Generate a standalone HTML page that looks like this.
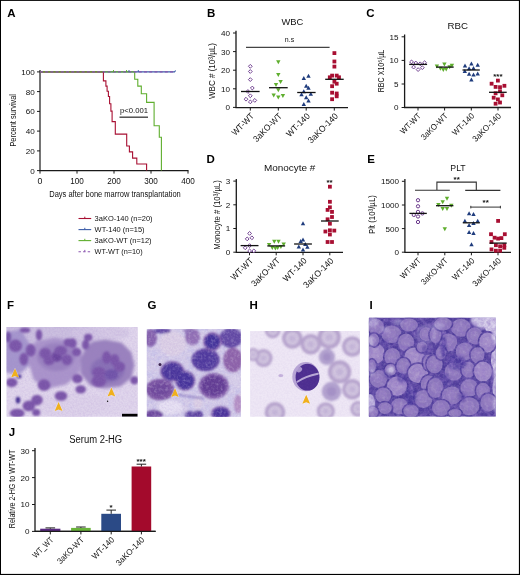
<!DOCTYPE html>
<html><head><meta charset="utf-8"><title>Figure</title>
<style>
html,body{margin:0;padding:0;background:#fff;}
svg{display:block;opacity:0.999;}
text{font-family:"Liberation Sans",sans-serif;}
#panelA,#panelB,#panelC,#panelD,#panelE,#panelJ,#lbl{filter:blur(0.35px);}
</style></head><body>
<svg width="520" height="575" viewBox="0 0 520 575">
<rect x="0" y="0" width="520" height="575" fill="#fff"/>
<g id="panelA"><text x="7.3" y="16.6" font-size="11.5" text-anchor="start" fill="#000" font-weight="bold" >A</text>
<path d="M40 69.9V170.6H188.5" fill="none" stroke="#1a1a1a" stroke-width="1.2"/>
<path d="M37 170.6H40" stroke="#1a1a1a" stroke-width="1"/>
<text x="34.8" y="173.5" font-size="8.1" text-anchor="end" fill="#111" >0</text>
<path d="M37 150.9H40" stroke="#1a1a1a" stroke-width="1"/>
<text x="34.8" y="153.8" font-size="8.1" text-anchor="end" fill="#111" >20</text>
<path d="M37 131.1H40" stroke="#1a1a1a" stroke-width="1"/>
<text x="34.8" y="134.0" font-size="8.1" text-anchor="end" fill="#111" >40</text>
<path d="M37 111.4H40" stroke="#1a1a1a" stroke-width="1"/>
<text x="34.8" y="114.3" font-size="8.1" text-anchor="end" fill="#111" >60</text>
<path d="M37 91.6H40" stroke="#1a1a1a" stroke-width="1"/>
<text x="34.8" y="94.5" font-size="8.1" text-anchor="end" fill="#111" >80</text>
<path d="M37 71.9H40" stroke="#1a1a1a" stroke-width="1"/>
<text x="34.8" y="74.8" font-size="8.1" text-anchor="end" fill="#111" >100</text>
<path d="M40.0 170.6V173.6" stroke="#1a1a1a" stroke-width="1"/>
<text x="40.0" y="183.5" font-size="8.8" text-anchor="middle" fill="#111" >0</text>
<path d="M77.0 170.6V173.6" stroke="#1a1a1a" stroke-width="1"/>
<text x="77.0" y="183.5" font-size="8.8" text-anchor="middle" fill="#111" textLength="13.6" lengthAdjust="spacingAndGlyphs" >100</text>
<path d="M114.0 170.6V173.6" stroke="#1a1a1a" stroke-width="1"/>
<text x="114.0" y="183.5" font-size="8.8" text-anchor="middle" fill="#111" textLength="13.6" lengthAdjust="spacingAndGlyphs" >200</text>
<path d="M151.0 170.6V173.6" stroke="#1a1a1a" stroke-width="1"/>
<text x="151.0" y="183.5" font-size="8.8" text-anchor="middle" fill="#111" textLength="13.6" lengthAdjust="spacingAndGlyphs" >300</text>
<path d="M188.0 170.6V173.6" stroke="#1a1a1a" stroke-width="1"/>
<text x="188.0" y="183.5" font-size="8.8" text-anchor="middle" fill="#111" textLength="13.6" lengthAdjust="spacingAndGlyphs" >400</text>
<text x="15.8" y="120.3" font-size="9.6" text-anchor="middle" fill="#111" textLength="52.6" lengthAdjust="spacingAndGlyphs" transform="rotate(-90 15.8 120.3)" >Percent survival</text>
<text x="115" y="196.7" font-size="9.6" text-anchor="middle" fill="#111" textLength="131.5" lengthAdjust="spacingAndGlyphs" >Days after bone marrow transplantation</text>
<path d="M40 71.9H174.5l1.2 -1.4" fill="none" stroke="#3b5ca8" stroke-width="1.1"/>
<path d="M40 71.9H103.4" stroke="#a80f32" stroke-width="1.1"/>
<path d="M40 71.9H134.7" stroke="#5fae2e" stroke-width="1.1"/>
<path d="M103.4 71.9L103.4 80.9L105.9 80.9L105.9 86.1L107.1 86.1L107.1 91.3L108.4 91.3L108.4 96.5L109.6 96.5L109.6 103.8L110.9 103.8L110.9 111.1L112.1 111.1L112.1 121.6L115.3 121.6L115.3 134.1L126.7 134.1L126.7 146.0L129.4 146.0L129.4 151.9L132.6 151.9L132.6 158.1L136.8 158.1L136.8 164.0L146.6 164.0L146.6 170.6" fill="none" stroke="#a80f32" stroke-width="1.1"/>
<path d="M134.7 71.9L134.7 79.2L137.8 79.2L137.8 86.1L141.3 86.1L141.3 93.8L146.6 93.8L146.6 102.4L154.1 102.4L154.1 125.8L159.3 125.8L159.3 137.2L161.4 137.2L161.4 170.6" fill="none" stroke="#5fae2e" stroke-width="1.1"/>
<path d="M40 71.9H175" stroke="#8a55b0" stroke-width="1.1" stroke-dasharray="3 2.2"/>
<path d="M113.5 71.9v-1.8" stroke="#5fae2e" stroke-width="1"/>
<path d="M126.5 71.9v-1.8" stroke="#5fae2e" stroke-width="1"/>
<path d="M129 71.9v-1.8" stroke="#3b5ca8" stroke-width="1"/>
<path d="M138.3 71.9v-1.8" stroke="#3b5ca8" stroke-width="1"/>
<text x="134" y="112.5" font-size="8" text-anchor="middle" fill="#111" textLength="28" lengthAdjust="spacingAndGlyphs" >p&lt;0.001</text>
<path d="M119.5 117.2H148" stroke="#444" stroke-width="1.4"/>
<path d="M78.5 218.5H91.2" stroke="#a80f32" stroke-width="1.1"/>
<path d="M84.8 218.5v-1.8" stroke="#a80f32" stroke-width="1"/>
<text x="94.6" y="221.2" font-size="7.8" text-anchor="start" fill="#111" textLength="58" lengthAdjust="spacingAndGlyphs" >3aKO-140 (n=20)</text>
<path d="M78.5 229.6H91.2" stroke="#3b5ca8" stroke-width="1.1"/>
<path d="M84.8 229.6v-1.8" stroke="#3b5ca8" stroke-width="1"/>
<text x="94.6" y="232.3" font-size="7.8" text-anchor="start" fill="#111" textLength="50" lengthAdjust="spacingAndGlyphs" >WT-140 (n=15)</text>
<path d="M78.5 240.6H91.2" stroke="#5fae2e" stroke-width="1.1"/>
<path d="M84.8 240.6v-1.8" stroke="#5fae2e" stroke-width="1"/>
<text x="94.6" y="243.3" font-size="7.8" text-anchor="start" fill="#111" textLength="57" lengthAdjust="spacingAndGlyphs" >3aKO-WT (n=12)</text>
<path d="M78.5 251.7H91.2" stroke="#8a55b0" stroke-width="1.1" stroke-dasharray="2.4 2.2"/>
<path d="M84.8 251.7v-1.8" stroke="#8a55b0" stroke-width="1"/>
<text x="94.6" y="254.4" font-size="7.8" text-anchor="start" fill="#111" textLength="48" lengthAdjust="spacingAndGlyphs" >WT-WT (n=10)</text></g>
<g id="panelB"><text x="206.9" y="16.6" font-size="11.5" text-anchor="start" fill="#000" font-weight="bold" >B</text>
<text x="292.3" y="24.8" font-size="9.9" text-anchor="middle" fill="#111" textLength="21.8" lengthAdjust="spacingAndGlyphs" >WBC</text>
<path d="M236 30.8V107.6H348" fill="none" stroke="#1a1a1a" stroke-width="1.3"/>
<path d="M233 33H236" stroke="#1a1a1a" stroke-width="1"/>
<text x="230.0" y="35.9" font-size="8.1" text-anchor="end" fill="#111" >40</text>
<path d="M233 51.6H236" stroke="#1a1a1a" stroke-width="1"/>
<text x="230.0" y="54.5" font-size="8.1" text-anchor="end" fill="#111" >30</text>
<path d="M233 70.2H236" stroke="#1a1a1a" stroke-width="1"/>
<text x="230.0" y="73.1" font-size="8.1" text-anchor="end" fill="#111" >20</text>
<path d="M233 88.8H236" stroke="#1a1a1a" stroke-width="1"/>
<text x="230.0" y="91.7" font-size="8.1" text-anchor="end" fill="#111" >10</text>
<path d="M233 107.4H236" stroke="#1a1a1a" stroke-width="1"/>
<text x="230.0" y="110.3" font-size="8.1" text-anchor="end" fill="#111" >0</text>
<text x="215.4" y="71" font-size="9.2" text-anchor="middle" fill="#111" textLength="56" lengthAdjust="spacingAndGlyphs" transform="rotate(-90 215.4 71)" >WBC # (10&#179;/&#181;L)</text>
<path d="M250.3 107.6V110.6" stroke="#1a1a1a" stroke-width="1"/>
<text x="254.6" y="116.6" font-size="8.8" text-anchor="end" fill="#111" transform="rotate(-45 254.6 116.6)" textLength="27.5" lengthAdjust="spacingAndGlyphs">WT-WT</text>
<path d="M278.3 107.6V110.6" stroke="#1a1a1a" stroke-width="1"/>
<text x="282.6" y="116.6" font-size="8.8" text-anchor="end" fill="#111" transform="rotate(-45 282.6 116.6)" textLength="36.5" lengthAdjust="spacingAndGlyphs">3aKO-WT</text>
<path d="M306.2 107.6V110.6" stroke="#1a1a1a" stroke-width="1"/>
<text x="310.5" y="116.6" font-size="8.8" text-anchor="end" fill="#111" transform="rotate(-45 310.5 116.6)" textLength="29.5" lengthAdjust="spacingAndGlyphs">WT-140</text>
<path d="M334.3 107.6V110.6" stroke="#1a1a1a" stroke-width="1"/>
<text x="338.6" y="116.6" font-size="8.8" text-anchor="end" fill="#111" transform="rotate(-45 338.6 116.6)" textLength="38.5" lengthAdjust="spacingAndGlyphs">3aKO-140</text>
<path d="M250.3 64.4L252.2 66.3L250.3 68.2L248.4 66.3Z" fill="#fff" stroke="#6b3a8c" stroke-width="0.95"/>
<path d="M250.3 69.6L252.2 71.5L250.3 73.4L248.4 71.5Z" fill="#fff" stroke="#6b3a8c" stroke-width="0.95"/>
<path d="M250.3 77.7L252.2 79.6L250.3 81.5L248.4 79.6Z" fill="#fff" stroke="#6b3a8c" stroke-width="0.95"/>
<path d="M252.3 86.1L254.2 88.0L252.3 89.9L250.4 88.0Z" fill="#fff" stroke="#6b3a8c" stroke-width="0.95"/>
<path d="M247.9 89.6L249.8 91.5L247.9 93.4L246.0 91.5Z" fill="#fff" stroke="#6b3a8c" stroke-width="0.95"/>
<path d="M250.3 93.9L252.2 95.8L250.3 97.7L248.4 95.8Z" fill="#fff" stroke="#6b3a8c" stroke-width="0.95"/>
<path d="M246.0 97.3L247.9 99.2L246.0 101.1L244.1 99.2Z" fill="#fff" stroke="#6b3a8c" stroke-width="0.95"/>
<path d="M254.8 98.5L256.7 100.4L254.8 102.3L252.9 100.4Z" fill="#fff" stroke="#6b3a8c" stroke-width="0.95"/>
<path d="M250.3 100.0L252.2 101.9L250.3 103.8L248.4 101.9Z" fill="#fff" stroke="#6b3a8c" stroke-width="0.95"/>
<path d="M276.1 60.3L280.5 60.3L278.3 64.3Z" fill="#5fae2e"/>
<path d="M276.1 73.0L280.5 73.0L278.3 77.0Z" fill="#5fae2e"/>
<path d="M278.4 79.9L282.8 79.9L280.6 83.9Z" fill="#5fae2e"/>
<path d="M273.8 83.0L278.2 83.0L276.0 87.0Z" fill="#5fae2e"/>
<path d="M276.1 88.2L280.5 88.2L278.3 92.2Z" fill="#5fae2e"/>
<path d="M271.5 93.6L275.9 93.6L273.7 97.6Z" fill="#5fae2e"/>
<path d="M280.7 94.0L285.1 94.0L282.9 98.0Z" fill="#5fae2e"/>
<path d="M276.1 95.5L280.5 95.5L278.3 99.5Z" fill="#5fae2e"/>
<path d="M306.3 77.7L310.7 77.7L308.5 73.7Z" fill="#1f3c7d"/>
<path d="M301.6 79.9L306.0 79.9L303.8 75.9Z" fill="#1f3c7d"/>
<path d="M304.0 87.8L308.4 87.8L306.2 83.8Z" fill="#1f3c7d"/>
<path d="M306.3 89.8L310.7 89.8L308.5 85.8Z" fill="#1f3c7d"/>
<path d="M301.6 93.3L306.0 93.3L303.8 89.3Z" fill="#1f3c7d"/>
<path d="M299.3 96.2L303.7 96.2L301.5 92.2Z" fill="#1f3c7d"/>
<path d="M308.6 95.8L313.0 95.8L310.8 91.8Z" fill="#1f3c7d"/>
<path d="M304.0 99.3L308.4 99.3L306.2 95.3Z" fill="#1f3c7d"/>
<path d="M306.3 102.4L310.7 102.4L308.5 98.4Z" fill="#1f3c7d"/>
<path d="M301.6 106.0L306.0 106.0L303.8 102.0Z" fill="#1f3c7d"/>
<rect x="332.5" y="51.2" width="3.8" height="3.8" fill="#a80f32"/>
<rect x="332.5" y="59.6" width="3.8" height="3.8" fill="#a80f32"/>
<rect x="332.5" y="64.7" width="3.8" height="3.8" fill="#a80f32"/>
<rect x="330.2" y="73.7" width="3.8" height="3.8" fill="#a80f32"/>
<rect x="334.8" y="73.7" width="3.8" height="3.8" fill="#a80f32"/>
<rect x="327.9" y="75.4" width="3.8" height="3.8" fill="#a80f32"/>
<rect x="337.1" y="75.4" width="3.8" height="3.8" fill="#a80f32"/>
<rect x="332.5" y="79.8" width="3.8" height="3.8" fill="#a80f32"/>
<rect x="334.8" y="81.8" width="3.8" height="3.8" fill="#a80f32"/>
<rect x="330.2" y="84.3" width="3.8" height="3.8" fill="#a80f32"/>
<rect x="330.2" y="90.8" width="3.8" height="3.8" fill="#a80f32"/>
<rect x="334.8" y="91.6" width="3.8" height="3.8" fill="#a80f32"/>
<rect x="334.8" y="94.4" width="3.8" height="3.8" fill="#a80f32"/>
<rect x="330.2" y="97.3" width="3.8" height="3.8" fill="#a80f32"/>
<path d="M241.0 91.5H259.6" stroke="#111" stroke-width="1.3"/>
<path d="M269.0 87.7H287.7" stroke="#111" stroke-width="1.3"/>
<path d="M297.2 92.5H315.6" stroke="#111" stroke-width="1.3"/>
<path d="M325.2 79.3H343.7" stroke="#111" stroke-width="1.3"/><path d="M246 47.4H329.6" stroke="#444" stroke-width="1.2"/><text x="289.5" y="42.3" font-size="7" text-anchor="middle" fill="#111" >n.s</text></g>
<g id="panelC"><text x="366.3" y="16.6" font-size="11.5" text-anchor="start" fill="#000" font-weight="bold" >C</text>
<text x="457.8" y="29.4" font-size="9.9" text-anchor="middle" fill="#111" textLength="20.5" lengthAdjust="spacingAndGlyphs" >RBC</text>
<path d="M404.6 34.599999999999994V107.5H511" fill="none" stroke="#1a1a1a" stroke-width="1.3"/>
<path d="M401.6 36.8H404.6" stroke="#1a1a1a" stroke-width="1"/>
<text x="398.6" y="39.7" font-size="8.1" text-anchor="end" fill="#111" >15</text>
<path d="M401.6 60.4H404.6" stroke="#1a1a1a" stroke-width="1"/>
<text x="398.6" y="63.3" font-size="8.1" text-anchor="end" fill="#111" >10</text>
<path d="M401.6 84H404.6" stroke="#1a1a1a" stroke-width="1"/>
<text x="398.6" y="86.9" font-size="8.1" text-anchor="end" fill="#111" >5</text>
<path d="M401.6 107.5H404.6" stroke="#1a1a1a" stroke-width="1"/>
<text x="398.6" y="110.4" font-size="8.1" text-anchor="end" fill="#111" >0</text>
<text x="383.9" y="71" font-size="9.2" text-anchor="middle" fill="#111" textLength="42.5" lengthAdjust="spacingAndGlyphs" transform="rotate(-90 383.9 71)" >RBC X10&#8310;/&#181;L</text>
<path d="M418 107.5V110.5" stroke="#1a1a1a" stroke-width="1"/>
<text x="421.6" y="116.5" font-size="8.4" text-anchor="end" fill="#111" transform="rotate(-45 421.6 116.5)" textLength="25.5" lengthAdjust="spacingAndGlyphs">WT-WT</text>
<path d="M444.6 107.5V110.5" stroke="#1a1a1a" stroke-width="1"/>
<text x="448.2" y="116.5" font-size="8.4" text-anchor="end" fill="#111" transform="rotate(-45 448.2 116.5)" textLength="34" lengthAdjust="spacingAndGlyphs">3aKO-WT</text>
<path d="M471.3 107.5V110.5" stroke="#1a1a1a" stroke-width="1"/>
<text x="474.9" y="116.5" font-size="8.4" text-anchor="end" fill="#111" transform="rotate(-45 474.9 116.5)" textLength="27.5" lengthAdjust="spacingAndGlyphs">WT-140</text>
<path d="M498 107.5V110.5" stroke="#1a1a1a" stroke-width="1"/>
<text x="501.6" y="116.5" font-size="8.4" text-anchor="end" fill="#111" transform="rotate(-45 501.6 116.5)" textLength="36.5" lengthAdjust="spacingAndGlyphs">3aKO-140</text>
<path d="M411.5 60.0L413.4 61.9L411.5 63.8L409.6 61.9Z" fill="#fff" stroke="#6b3a8c" stroke-width="0.95"/>
<path d="M415.8 61.1L417.7 63.0L415.8 64.9L413.9 63.0Z" fill="#fff" stroke="#6b3a8c" stroke-width="0.95"/>
<path d="M420.2 61.9L422.1 63.8L420.2 65.7L418.3 63.8Z" fill="#fff" stroke="#6b3a8c" stroke-width="0.95"/>
<path d="M424.6 60.8L426.5 62.7L424.6 64.6L422.7 62.7Z" fill="#fff" stroke="#6b3a8c" stroke-width="0.95"/>
<path d="M413.6 65.2L415.5 67.1L413.6 69.0L411.7 67.1Z" fill="#fff" stroke="#6b3a8c" stroke-width="0.95"/>
<path d="M422.3 65.8L424.2 67.7L422.3 69.6L420.4 67.7Z" fill="#fff" stroke="#6b3a8c" stroke-width="0.95"/>
<path d="M418.1 67.7L420.0 69.6L418.1 71.5L416.2 69.6Z" fill="#fff" stroke="#6b3a8c" stroke-width="0.95"/>
<path d="M442.2 62.4L446.6 62.4L444.4 66.4Z" fill="#5fae2e"/>
<path d="M434.7 64.4L439.1 64.4L436.9 68.4Z" fill="#5fae2e"/>
<path d="M449.7 63.8L454.1 63.8L451.9 67.8Z" fill="#5fae2e"/>
<path d="M447.4 65.2L451.8 65.2L449.6 69.2Z" fill="#5fae2e"/>
<path d="M438.2 66.7L442.6 66.7L440.4 70.7Z" fill="#5fae2e"/>
<path d="M441.1 68.0L445.5 68.0L443.3 72.0Z" fill="#5fae2e"/>
<path d="M444.0 67.6L448.4 67.6L446.2 71.6Z" fill="#5fae2e"/>
<path d="M469.2 65.6L473.6 65.6L471.4 61.6Z" fill="#1f3c7d"/>
<path d="M462.8 67.6L467.2 67.6L465.0 63.6Z" fill="#1f3c7d"/>
<path d="M475.5 66.8L479.9 66.8L477.7 62.8Z" fill="#1f3c7d"/>
<path d="M466.9 70.3L471.3 70.3L469.1 66.3Z" fill="#1f3c7d"/>
<path d="M471.3 69.9L475.7 69.9L473.5 65.9Z" fill="#1f3c7d"/>
<path d="M462.6 72.9L467.0 72.9L464.8 68.9Z" fill="#1f3c7d"/>
<path d="M466.9 75.7L471.3 75.7L469.1 71.7Z" fill="#1f3c7d"/>
<path d="M471.3 76.6L475.7 76.6L473.5 72.6Z" fill="#1f3c7d"/>
<path d="M475.5 75.5L479.9 75.5L477.7 71.5Z" fill="#1f3c7d"/>
<path d="M469.2 81.5L473.6 81.5L471.4 77.5Z" fill="#1f3c7d"/>
<rect x="496.0" y="78.7" width="3.8" height="3.8" fill="#a80f32"/>
<rect x="489.7" y="81.8" width="3.8" height="3.8" fill="#a80f32"/>
<rect x="502.5" y="83.9" width="3.8" height="3.8" fill="#a80f32"/>
<rect x="493.7" y="85.0" width="3.8" height="3.8" fill="#a80f32"/>
<rect x="498.1" y="85.3" width="3.8" height="3.8" fill="#a80f32"/>
<rect x="498.1" y="89.4" width="3.8" height="3.8" fill="#a80f32"/>
<rect x="493.7" y="91.4" width="3.8" height="3.8" fill="#a80f32"/>
<rect x="500.4" y="93.4" width="3.8" height="3.8" fill="#a80f32"/>
<rect x="491.8" y="95.8" width="3.8" height="3.8" fill="#a80f32"/>
<rect x="496.0" y="97.5" width="3.8" height="3.8" fill="#a80f32"/>
<rect x="498.1" y="100.6" width="3.8" height="3.8" fill="#a80f32"/>
<rect x="493.7" y="101.8" width="3.8" height="3.8" fill="#a80f32"/>
<path d="M409.2 64.4H427.1" stroke="#111" stroke-width="1.3"/>
<path d="M436.0 67.1H453.7" stroke="#111" stroke-width="1.3"/>
<path d="M462.5 70.0H479.8" stroke="#111" stroke-width="1.3"/>
<path d="M489.0 92.3H506.7" stroke="#111" stroke-width="1.3"/><text x="497.9" y="78.6" font-size="7.9" text-anchor="middle" fill="#111" font-weight="bold" >***</text></g>
<g id="panelD"><text x="206.6" y="163" font-size="11.5" text-anchor="start" fill="#000" font-weight="bold" >D</text>
<text x="289.6" y="170.6" font-size="9.9" text-anchor="middle" fill="#111" textLength="51.4" lengthAdjust="spacingAndGlyphs" >Monocyte #</text>
<path d="M236.3 178.9V252.3H343" fill="none" stroke="#1a1a1a" stroke-width="1.3"/>
<path d="M233.3 181.1H236.3" stroke="#1a1a1a" stroke-width="1"/>
<text x="230.3" y="184.0" font-size="8.1" text-anchor="end" fill="#111" >3</text>
<path d="M233.3 204.8H236.3" stroke="#1a1a1a" stroke-width="1"/>
<text x="230.3" y="207.7" font-size="8.1" text-anchor="end" fill="#111" >2</text>
<path d="M233.3 228.5H236.3" stroke="#1a1a1a" stroke-width="1"/>
<text x="230.3" y="231.4" font-size="8.1" text-anchor="end" fill="#111" >1</text>
<path d="M233.3 252.2H236.3" stroke="#1a1a1a" stroke-width="1"/>
<text x="230.3" y="255.1" font-size="8.1" text-anchor="end" fill="#111" >0</text>
<text x="219.8" y="215" font-size="9.2" text-anchor="middle" fill="#111" textLength="69.5" lengthAdjust="spacingAndGlyphs" transform="rotate(-90 219.8 215)" >Monocyte # (10&#179;/&#181;L)</text>
<path d="M249.5 252.3V255.3" stroke="#1a1a1a" stroke-width="1"/>
<text x="253.8" y="261.3" font-size="8.8" text-anchor="end" fill="#111" transform="rotate(-45 253.8 261.3)" textLength="27.5" lengthAdjust="spacingAndGlyphs">WT-WT</text>
<path d="M276.2 252.3V255.3" stroke="#1a1a1a" stroke-width="1"/>
<text x="280.5" y="261.3" font-size="8.8" text-anchor="end" fill="#111" transform="rotate(-45 280.5 261.3)" textLength="36.5" lengthAdjust="spacingAndGlyphs">3aKO-WT</text>
<path d="M303 252.3V255.3" stroke="#1a1a1a" stroke-width="1"/>
<text x="307.3" y="261.3" font-size="8.8" text-anchor="end" fill="#111" transform="rotate(-45 307.3 261.3)" textLength="29.5" lengthAdjust="spacingAndGlyphs">WT-140</text>
<path d="M329.8 252.3V255.3" stroke="#1a1a1a" stroke-width="1"/>
<text x="334.1" y="261.3" font-size="8.8" text-anchor="end" fill="#111" transform="rotate(-45 334.1 261.3)" textLength="38.5" lengthAdjust="spacingAndGlyphs">3aKO-140</text>
<path d="M249.6 231.5L251.5 233.4L249.6 235.3L247.7 233.4Z" fill="#fff" stroke="#6b3a8c" stroke-width="0.95"/>
<path d="M247.2 237.0L249.1 238.9L247.2 240.8L245.3 238.9Z" fill="#fff" stroke="#6b3a8c" stroke-width="0.95"/>
<path d="M251.9 235.9L253.8 237.8L251.9 239.7L250.0 237.8Z" fill="#fff" stroke="#6b3a8c" stroke-width="0.95"/>
<path d="M249.6 243.7L251.5 245.6L249.6 247.5L247.7 245.6Z" fill="#fff" stroke="#6b3a8c" stroke-width="0.95"/>
<path d="M245.2 245.9L247.1 247.8L245.2 249.7L243.3 247.8Z" fill="#fff" stroke="#6b3a8c" stroke-width="0.95"/>
<path d="M249.6 249.0L251.5 250.9L249.6 252.8L247.7 250.9Z" fill="#fff" stroke="#6b3a8c" stroke-width="0.95"/>
<path d="M253.8 249.0L255.7 250.9L253.8 252.8L251.9 250.9Z" fill="#fff" stroke="#6b3a8c" stroke-width="0.95"/>
<path d="M272.1 239.7L276.5 239.7L274.3 243.7Z" fill="#5fae2e"/>
<path d="M276.3 239.7L280.7 239.7L278.5 243.7Z" fill="#5fae2e"/>
<path d="M266.9 242.9L271.3 242.9L269.1 246.9Z" fill="#5fae2e"/>
<path d="M281.5 242.5L285.9 242.5L283.7 246.5Z" fill="#5fae2e"/>
<path d="M270.1 246.0L274.5 246.0L272.3 250.0Z" fill="#5fae2e"/>
<path d="M273.2 246.5L277.6 246.5L275.4 250.5Z" fill="#5fae2e"/>
<path d="M275.5 246.0L279.9 246.0L277.7 250.0Z" fill="#5fae2e"/>
<path d="M278.7 244.9L283.1 244.9L280.9 248.9Z" fill="#5fae2e"/>
<path d="M300.8 225.3L305.2 225.3L303.0 221.3Z" fill="#1f3c7d"/>
<path d="M300.8 241.4L305.2 241.4L303.0 237.4Z" fill="#1f3c7d"/>
<path d="M298.5 243.0L302.9 243.0L300.7 239.0Z" fill="#1f3c7d"/>
<path d="M303.1 246.1L307.5 246.1L305.3 242.1Z" fill="#1f3c7d"/>
<path d="M296.6 248.5L301.0 248.5L298.8 244.5Z" fill="#1f3c7d"/>
<path d="M305.2 248.8L309.6 248.8L307.4 244.8Z" fill="#1f3c7d"/>
<path d="M300.8 251.6L305.2 251.6L303.0 247.6Z" fill="#1f3c7d"/>
<rect x="328.0" y="184.8" width="3.8" height="3.8" fill="#a80f32"/>
<rect x="328.0" y="199.9" width="3.8" height="3.8" fill="#a80f32"/>
<rect x="328.0" y="205.4" width="3.8" height="3.8" fill="#a80f32"/>
<rect x="325.7" y="208.0" width="3.8" height="3.8" fill="#a80f32"/>
<rect x="330.1" y="210.0" width="3.8" height="3.8" fill="#a80f32"/>
<rect x="330.1" y="215.1" width="3.8" height="3.8" fill="#a80f32"/>
<rect x="325.7" y="217.4" width="3.8" height="3.8" fill="#a80f32"/>
<rect x="328.0" y="221.8" width="3.8" height="3.8" fill="#a80f32"/>
<rect x="328.0" y="228.4" width="3.8" height="3.8" fill="#a80f32"/>
<rect x="323.5" y="229.6" width="3.8" height="3.8" fill="#a80f32"/>
<rect x="332.4" y="228.7" width="3.8" height="3.8" fill="#a80f32"/>
<rect x="328.0" y="232.6" width="3.8" height="3.8" fill="#a80f32"/>
<rect x="325.7" y="240.1" width="3.8" height="3.8" fill="#a80f32"/>
<rect x="330.1" y="240.1" width="3.8" height="3.8" fill="#a80f32"/>
<path d="M240.6 245.6H258.5" stroke="#111" stroke-width="1.3"/>
<path d="M267.3 245.9H285.1" stroke="#111" stroke-width="1.3"/>
<path d="M294.1 244.0H311.9" stroke="#111" stroke-width="1.3"/>
<path d="M321.0 221.0H338.7" stroke="#111" stroke-width="1.3"/><text x="329.6" y="184.6" font-size="7.9" text-anchor="middle" fill="#111" font-weight="bold" >**</text></g>
<g id="panelE"><text x="367.2" y="163" font-size="11.5" text-anchor="start" fill="#000" font-weight="bold" >E</text>
<text x="458" y="171.1" font-size="9.9" text-anchor="middle" fill="#111" textLength="15.3" lengthAdjust="spacingAndGlyphs" >PLT</text>
<path d="M404.9 179.10000000000002V252.3H511" fill="none" stroke="#1a1a1a" stroke-width="1.3"/>
<path d="M401.9 181.3H404.9" stroke="#1a1a1a" stroke-width="1"/>
<text x="398.9" y="184.2" font-size="8.1" text-anchor="end" fill="#111" >1500</text>
<path d="M401.9 205H404.9" stroke="#1a1a1a" stroke-width="1"/>
<text x="398.9" y="207.9" font-size="8.1" text-anchor="end" fill="#111" >1000</text>
<path d="M401.9 228.6H404.9" stroke="#1a1a1a" stroke-width="1"/>
<text x="398.9" y="231.5" font-size="8.1" text-anchor="end" fill="#111" >500</text>
<path d="M401.9 252.2H404.9" stroke="#1a1a1a" stroke-width="1"/>
<text x="398.9" y="255.1" font-size="8.1" text-anchor="end" fill="#111" >0</text>
<text x="375.2" y="214.6" font-size="9.2" text-anchor="middle" fill="#111" textLength="39" lengthAdjust="spacingAndGlyphs" transform="rotate(-90 375.2 214.6)" >Plt (10&#179;/&#181;L)</text>
<path d="M418 252.3V255.3" stroke="#1a1a1a" stroke-width="1"/>
<text x="421.6" y="261.3" font-size="8.4" text-anchor="end" fill="#111" transform="rotate(-45 421.6 261.3)" textLength="25.5" lengthAdjust="spacingAndGlyphs">WT-WT</text>
<path d="M444.8 252.3V255.3" stroke="#1a1a1a" stroke-width="1"/>
<text x="448.4" y="261.3" font-size="8.4" text-anchor="end" fill="#111" transform="rotate(-45 448.4 261.3)" textLength="34" lengthAdjust="spacingAndGlyphs">3aKO-WT</text>
<path d="M471.4 252.3V255.3" stroke="#1a1a1a" stroke-width="1"/>
<text x="475.0" y="261.3" font-size="8.4" text-anchor="end" fill="#111" transform="rotate(-45 475.0 261.3)" textLength="27.5" lengthAdjust="spacingAndGlyphs">WT-140</text>
<path d="M498 252.3V255.3" stroke="#1a1a1a" stroke-width="1"/>
<text x="501.6" y="261.3" font-size="8.4" text-anchor="end" fill="#111" transform="rotate(-45 501.6 261.3)" textLength="36.5" lengthAdjust="spacingAndGlyphs">3aKO-140</text>
<circle cx="418.0" cy="200.2" r="1.65" fill="#fff" stroke="#6b3a8c" stroke-width="1"/>
<circle cx="418.0" cy="206.3" r="1.65" fill="#fff" stroke="#6b3a8c" stroke-width="1"/>
<circle cx="418.0" cy="211.9" r="1.65" fill="#fff" stroke="#6b3a8c" stroke-width="1"/>
<circle cx="413.8" cy="214.9" r="1.65" fill="#fff" stroke="#6b3a8c" stroke-width="1"/>
<circle cx="422.4" cy="213.4" r="1.65" fill="#fff" stroke="#6b3a8c" stroke-width="1"/>
<circle cx="418.0" cy="216.5" r="1.65" fill="#fff" stroke="#6b3a8c" stroke-width="1"/>
<circle cx="418.0" cy="222.0" r="1.65" fill="#fff" stroke="#6b3a8c" stroke-width="1"/>
<path d="M444.8 196.8L449.2 196.8L447.0 200.8Z" fill="#5fae2e"/>
<path d="M440.5 200.3L444.9 200.3L442.7 204.3Z" fill="#5fae2e"/>
<path d="M436.2 202.9L440.6 202.9L438.4 206.9Z" fill="#5fae2e"/>
<path d="M449.1 203.7L453.5 203.7L451.3 207.7Z" fill="#5fae2e"/>
<path d="M440.5 206.9L444.9 206.9L442.7 210.9Z" fill="#5fae2e"/>
<path d="M444.8 206.9L449.2 206.9L447.0 210.9Z" fill="#5fae2e"/>
<path d="M442.6 227.2L447.0 227.2L444.8 231.2Z" fill="#5fae2e"/>
<path d="M466.9 215.2L471.3 215.2L469.1 211.2Z" fill="#1f3c7d"/>
<path d="M471.3 216.1L475.7 216.1L473.5 212.1Z" fill="#1f3c7d"/>
<path d="M462.7 222.7L467.1 222.7L464.9 218.7Z" fill="#1f3c7d"/>
<path d="M475.5 222.7L479.9 222.7L477.7 218.7Z" fill="#1f3c7d"/>
<path d="M471.3 225.0L475.7 225.0L473.5 221.0Z" fill="#1f3c7d"/>
<path d="M466.9 227.1L471.3 227.1L469.1 223.1Z" fill="#1f3c7d"/>
<path d="M466.9 234.1L471.3 234.1L469.1 230.1Z" fill="#1f3c7d"/>
<path d="M471.3 234.9L475.7 234.9L473.5 230.9Z" fill="#1f3c7d"/>
<path d="M469.3 246.2L473.7 246.2L471.5 242.2Z" fill="#1f3c7d"/>
<rect x="496.2" y="219.0" width="3.8" height="3.8" fill="#a80f32"/>
<rect x="489.1" y="232.3" width="3.8" height="3.8" fill="#a80f32"/>
<rect x="502.9" y="232.3" width="3.8" height="3.8" fill="#a80f32"/>
<rect x="492.7" y="235.8" width="3.8" height="3.8" fill="#a80f32"/>
<rect x="496.2" y="236.7" width="3.8" height="3.8" fill="#a80f32"/>
<rect x="499.5" y="236.2" width="3.8" height="3.8" fill="#a80f32"/>
<rect x="489.6" y="240.1" width="3.8" height="3.8" fill="#a80f32"/>
<rect x="494.0" y="243.3" width="3.8" height="3.8" fill="#a80f32"/>
<rect x="498.2" y="244.4" width="3.8" height="3.8" fill="#a80f32"/>
<rect x="502.4" y="243.3" width="3.8" height="3.8" fill="#a80f32"/>
<rect x="502.4" y="245.9" width="3.8" height="3.8" fill="#a80f32"/>
<rect x="489.6" y="247.5" width="3.8" height="3.8" fill="#a80f32"/>
<rect x="494.0" y="248.8" width="3.8" height="3.8" fill="#a80f32"/>
<rect x="498.2" y="248.8" width="3.8" height="3.8" fill="#a80f32"/>
<path d="M409.4 213.4H426.8" stroke="#111" stroke-width="1.3"/>
<path d="M436.0 205.7H453.4" stroke="#111" stroke-width="1.3"/>
<path d="M462.8 222.8H479.8" stroke="#111" stroke-width="1.3"/>
<path d="M489.5 243.1H506.7" stroke="#111" stroke-width="1.3"/><path d="M415 190.2H449.8M436.9 190.2V182.1H476.3V190.4M465.2 190.4H500.4" fill="none" stroke="#333" stroke-width="1.1"/><path d="M470.8 207.1H500.4M470.8 205.8v2.6M500.4 205.8v2.6" fill="none" stroke="#333" stroke-width="1"/><text x="456.7" y="182.2" font-size="7.9" text-anchor="middle" fill="#111" font-weight="bold" >**</text><text x="485.7" y="205" font-size="7.9" text-anchor="middle" fill="#111" font-weight="bold" >**</text></g>
<g id="panelJ"><text x="8.8" y="436" font-size="11.5" text-anchor="start" fill="#000" font-weight="bold" >J</text>
<text x="95.7" y="443" font-size="10" text-anchor="middle" fill="#111" textLength="53" lengthAdjust="spacingAndGlyphs" >Serum 2-HG</text>
<path d="M35.0 448V531.4H155.6" fill="none" stroke="#1a1a1a" stroke-width="1.3"/>
<path d="M32.0 531.4H35.0" stroke="#1a1a1a" stroke-width="1"/>
<text x="29.4" y="534.3" font-size="8.1" text-anchor="end" fill="#111" >0</text>
<path d="M32.0 504.5H35.0" stroke="#1a1a1a" stroke-width="1"/>
<text x="29.4" y="507.4" font-size="8.1" text-anchor="end" fill="#111" >10</text>
<path d="M32.0 477.6H35.0" stroke="#1a1a1a" stroke-width="1"/>
<text x="29.4" y="480.5" font-size="8.1" text-anchor="end" fill="#111" >20</text>
<path d="M32.0 450.7H35.0" stroke="#1a1a1a" stroke-width="1"/>
<text x="29.4" y="453.6" font-size="8.1" text-anchor="end" fill="#111" >30</text>
<text x="15.4" y="489" font-size="9.8" text-anchor="middle" fill="#111" textLength="78.5" lengthAdjust="spacingAndGlyphs" transform="rotate(-90 15.4 489)" >Relative 2-HG to WT-WT</text>
<rect x="40.2" y="528.7" width="20.2" height="2.7" fill="#5a2a82"/>
<path d="M50.3 528.7V527.9M45.5 527.9H55.1" fill="none" stroke="#222" stroke-width="1"/>
<rect x="71.1" y="527.9" width="19.6" height="3.5" fill="#6ab43a"/>
<path d="M80.9 527.9V527.0M76.1 527.0H85.7" fill="none" stroke="#222" stroke-width="1"/>
<rect x="101.3" y="513.8" width="19.7" height="17.6" fill="#2b4a86"/>
<path d="M111.2 513.8V510.1M106.4 510.1H116.0" fill="none" stroke="#222" stroke-width="1"/>
<rect x="131.6" y="466.5" width="19.6" height="64.9" fill="#a30a2c"/>
<path d="M141.4 466.5V464.2M136.6 464.2H146.2" fill="none" stroke="#222" stroke-width="1"/>
<path d="M35.0 531.4H155.6" stroke="#1a1a1a" stroke-width="1.3"/>
<path d="M50.3 531.4V534.4" stroke="#1a1a1a" stroke-width="1"/>
<text x="53.9" y="540.4" font-size="8.4" text-anchor="end" fill="#111" transform="rotate(-45 53.9 540.4)" textLength="25.5" lengthAdjust="spacingAndGlyphs">WT_WT</text>
<path d="M80.9 531.4V534.4" stroke="#1a1a1a" stroke-width="1"/>
<text x="84.5" y="540.4" font-size="8.4" text-anchor="end" fill="#111" transform="rotate(-45 84.5 540.4)" textLength="34" lengthAdjust="spacingAndGlyphs">3aKO-WT</text>
<path d="M111.2 531.4V534.4" stroke="#1a1a1a" stroke-width="1"/>
<text x="114.8" y="540.4" font-size="8.4" text-anchor="end" fill="#111" transform="rotate(-45 114.8 540.4)" textLength="27.5" lengthAdjust="spacingAndGlyphs">WT-140</text>
<path d="M141.4 531.4V534.4" stroke="#1a1a1a" stroke-width="1"/>
<text x="145.0" y="540.4" font-size="8.4" text-anchor="end" fill="#111" transform="rotate(-45 145.0 540.4)" textLength="36.5" lengthAdjust="spacingAndGlyphs">3aKO-140</text>
<text x="111.1" y="510" font-size="7.9" text-anchor="middle" fill="#111" font-weight="bold" >*</text>
<text x="141.1" y="464.4" font-size="7.9" text-anchor="middle" fill="#111" font-weight="bold" >***</text></g>
<defs>
<filter id="b1" x="-10%" y="-10%" width="120%" height="120%"><feGaussianBlur stdDeviation="0.9"/></filter>
<filter id="b2" x="-10%" y="-10%" width="120%" height="120%"><feGaussianBlur stdDeviation="1.7"/></filter>
<filter id="b3" x="-10%" y="-10%" width="120%" height="120%"><feGaussianBlur stdDeviation="0.6"/></filter>
<filter id="nz" x="0" y="0" width="100%" height="100%"><feTurbulence type="fractalNoise" baseFrequency="0.55" numOctaves="2" seed="7" result="t"/><feColorMatrix type="matrix" values="0 0 0 0 0.35  0 0 0 0 0.22  0 0 0 0 0.6  0.9 0 0 0 -0.32"/></filter>
<filter id="nz2" x="0" y="0" width="100%" height="100%"><feTurbulence type="fractalNoise" baseFrequency="0.35" numOctaves="2" seed="3" result="t"/><feColorMatrix type="matrix" values="0 0 0 0 1  0 0 0 0 1  0 0 0 0 1  1.1 0 0 0 -0.5"/></filter>
<filter id="nzI" x="0" y="0" width="100%" height="100%"><feTurbulence type="fractalNoise" baseFrequency="0.22" numOctaves="3" seed="11"/><feColorMatrix type="matrix" values="0 0 0 0 0.27  0 0 0 0 0.17  0 0 0 0 0.55  1.6 0 0 0 -0.55"/></filter>
<filter id="nzG" x="0" y="0" width="100%" height="100%"><feTurbulence type="fractalNoise" baseFrequency="0.18" numOctaves="3" seed="5"/><feColorMatrix type="matrix" values="0 0 0 0 0.56  0 0 0 0 0.54  0 0 0 0 0.82  2.2 0 0 0 -0.75"/></filter>
<clipPath id="cF"><rect x="6.5" y="327" width="131.3" height="89.7"/></clipPath>
<clipPath id="cG"><rect x="146.8" y="329.1" width="94.1" height="87.7"/></clipPath>
<clipPath id="cH"><rect x="250.1" y="331" width="109.8" height="85.8"/></clipPath>
<clipPath id="cI"><rect x="368.9" y="317.7" width="126.8" height="98.9"/></clipPath>
</defs>
<g clip-path="url(#cF)"><rect x="6" y="327" width="133" height="90" fill="#e0d6ec"/>
<g filter="url(#b2)"><ellipse cx="38.0" cy="338.0" rx="62.0" ry="26.0" fill="#c9bcde" fill-opacity="0.9"/><ellipse cx="100.0" cy="333.0" rx="30.0" ry="8.0" fill="#d2c6e3" fill-opacity="0.8"/><ellipse cx="70.0" cy="405.0" rx="40.0" ry="12.0" fill="#ddd2ea" fill-opacity="0.9"/><path d="M6 334L20 331L28 344L29 364L19 373L6 371Z" fill="#a596cd" fill-opacity="1.0" stroke="#a596cd" stroke-opacity="1.0" stroke-width="3" stroke-linejoin="round"/><path d="M36 343L55 339L72 343L80 356L78 372L66 383L48 387L35 379L30 362Z" fill="#aa94cb" fill-opacity="1.0" stroke="#aa94cb" stroke-opacity="1.0" stroke-width="3" stroke-linejoin="round"/><ellipse cx="56.0" cy="357.0" rx="19.0" ry="14.0" fill="#987fbe" fill-opacity="0.9"/><path d="M93 343L105 341L121 344L130 353L133 365L130 377L120 385L104 387L91 384L82 373L82 359L87 349Z" fill="#9a82be" fill-opacity="1.0" stroke="#9a82be" stroke-opacity="1.0" stroke-width="3" stroke-linejoin="round"/><ellipse cx="107.5" cy="370.0" rx="17.0" ry="13.0" fill="#836bb3" fill-opacity="0.8"/></g>
<g filter="url(#b1)"><ellipse cx="15.5" cy="345.8" rx="6.6" ry="6.2" fill="#7a55a8"/><ellipse cx="30.7" cy="350.2" rx="4.9" ry="6.4" fill="#7a55a8"/><ellipse cx="39.0" cy="335.0" rx="3.2" ry="5.8" fill="#7a55a8"/><ellipse cx="23.8" cy="359.1" rx="4.4" ry="6.3" fill="#7a55a8"/><ellipse cx="25.0" cy="330.2" rx="5.2" ry="2.6" fill="#7a55a8"/><ellipse cx="45.3" cy="353.4" rx="5.8" ry="5.4" fill="#7a55a8"/><ellipse cx="56.8" cy="356.5" rx="5.2" ry="5.2" fill="#6a449c"/><ellipse cx="66.9" cy="359.7" rx="5.2" ry="5.2" fill="#7a55a8"/><ellipse cx="60.6" cy="350.8" rx="6.4" ry="4.8" fill="#7a55a8"/><ellipse cx="49.1" cy="360.6" rx="5.6" ry="4.6" fill="#7a55a8"/><ellipse cx="68.2" cy="342.6" rx="4.6" ry="4.0" fill="#7a55a8"/><ellipse cx="44.0" cy="385.1" rx="6.4" ry="5.8" fill="#7a55a8"/><ellipse cx="61.0" cy="396.0" rx="6.3" ry="4.8" fill="#7a55a8"/><ellipse cx="11.7" cy="382.6" rx="5.8" ry="4.6" fill="#7a55a8"/><ellipse cx="37.0" cy="400.1" rx="5.8" ry="5.3" fill="#7a55a8"/><ellipse cx="28.8" cy="405.9" rx="6.3" ry="5.3" fill="#7a55a8"/><ellipse cx="17.2" cy="413.3" rx="7.4" ry="4.6" fill="#7a55a8"/><ellipse cx="36.2" cy="412.5" rx="4.1" ry="3.6" fill="#7a55a8"/><ellipse cx="106.6" cy="357.5" rx="4.4" ry="6.3" fill="#7a55a8"/><ellipse cx="114.8" cy="360.0" rx="4.4" ry="6.1" fill="#7a55a8"/><ellipse cx="119.5" cy="366.8" rx="5.5" ry="4.9" fill="#7a55a8"/><ellipse cx="98.9" cy="372.1" rx="6.8" ry="5.2" fill="#7a55a8"/><ellipse cx="98.9" cy="381.1" rx="7.5" ry="5.9" fill="#7a55a8"/><ellipse cx="111.3" cy="374.5" rx="6.8" ry="5.2" fill="#6f52a8"/><ellipse cx="72.5" cy="343.2" rx="4.1" ry="5.0" fill="#7a55a8"/><ellipse cx="76.6" cy="352.2" rx="4.6" ry="4.1" fill="#7a55a8"/><ellipse cx="88.2" cy="337.4" rx="4.2" ry="3.7" fill="#7a55a8"/><ellipse cx="85.7" cy="344.8" rx="3.7" ry="5.0" fill="#7a55a8"/><ellipse cx="77.4" cy="378.7" rx="5.3" ry="4.6" fill="#7a55a8"/><ellipse cx="80.7" cy="389.4" rx="5.3" ry="4.1" fill="#7a55a8"/><ellipse cx="134.4" cy="380.3" rx="4.1" ry="4.1" fill="#7a55a8"/><ellipse cx="18.0" cy="400.1" rx="2.3" ry="3.4" fill="#3f2a8e"/><ellipse cx="19.0" cy="376.4" rx="2.6" ry="2.0" fill="#4a3494"/><ellipse cx="8.0" cy="337.0" rx="3.2" ry="5.5" fill="#6f4ea2" fill-opacity="0.9"/></g>
<rect x="6" y="327" width="133" height="90" filter="url(#nz)" opacity="0.38"/>
<path d="M15.0 368.4L18.9 377.4L15.0 376.0L11.1 377.4Z" fill="#f0b01c" stroke="#fff" stroke-opacity="0.45" stroke-width="0.8" paint-order="stroke"/><path d="M58.6 401.9L62.5 410.9L58.6 409.5L54.7 410.9Z" fill="#f0b01c" stroke="#fff" stroke-opacity="0.45" stroke-width="0.8" paint-order="stroke"/><path d="M111.4 387.5L115.3 396.5L111.4 395.1L107.5 396.5Z" fill="#f0b01c" stroke="#fff" stroke-opacity="0.45" stroke-width="0.8" paint-order="stroke"/>
<rect x="122" y="413.8" width="15.6" height="2.9" fill="#000"/><circle cx="107.6" cy="401.3" r="0.7" fill="#111"/></g>
<g clip-path="url(#cG)"><rect x="146" y="328" width="95" height="90" fill="#d6cee9"/>
<rect x="146" y="328" width="95" height="90" filter="url(#nzG)" opacity="0.75"/>
<g filter="url(#b1)"><ellipse cx="172.8" cy="343.7" rx="13.5" ry="12.5" fill="#dcd0e6"/><ellipse cx="170.5" cy="407.5" rx="12.5" ry="7.2" fill="#e6e0f3"/><ellipse cx="198.0" cy="403.0" rx="4.5" ry="6.0" fill="#ddd0e6" fill-opacity="0.9"/><ellipse cx="235.0" cy="380.0" rx="5.5" ry="7.0" fill="#d8d0ea" fill-opacity="0.9"/><ellipse cx="150.5" cy="338.0" rx="6.5" ry="9.0" fill="#8562ad"/><ellipse cx="162.0" cy="331.0" rx="9.0" ry="2.6" fill="#5f44a2"/><ellipse cx="192.5" cy="337.0" rx="7.5" ry="8.5" fill="#9270b5"/><ellipse cx="231.0" cy="338.0" rx="11.5" ry="10.0" fill="#6248a4"/><ellipse cx="233.0" cy="360.0" rx="9.8" ry="12.2" fill="#8d62a9"/><ellipse cx="160.0" cy="389.5" rx="14.3" ry="10.8" fill="#7c55a3"/><ellipse cx="213.8" cy="386.0" rx="15.2" ry="13.0" fill="#8460ab"/><ellipse cx="205.6" cy="359.8" rx="14.2" ry="11.5" fill="#6349a4"/><ellipse cx="154.0" cy="414.5" rx="9.0" ry="4.5" fill="#6d4a9e"/><ellipse cx="198.0" cy="415.0" rx="5.0" ry="4.5" fill="#5d429f"/><ellipse cx="238.0" cy="404.0" rx="4.0" ry="9.5" fill="#b48fc4"/><ellipse cx="189.0" cy="331.0" rx="6.0" ry="2.5" fill="#8a6db4" fill-opacity="0.8"/><ellipse cx="212.3" cy="341.6" rx="9.3" ry="9.3" fill="#8159a8" fill-opacity="0.85"/><ellipse cx="172.3" cy="371.5" rx="12.2" ry="10.4" fill="#7d57a7" fill-opacity="0.8"/><ellipse cx="185.2" cy="380.6" rx="10.2" ry="10.2" fill="#7d57a7" fill-opacity="0.8"/><ellipse cx="220.8" cy="413.5" rx="10.0" ry="7.5" fill="#7d57a7" fill-opacity="0.7"/></g>
<g filter="url(#b1)"><ellipse cx="212.3" cy="341.6" rx="7.6" ry="7.6" fill="#43309a"/><ellipse cx="205.2" cy="360.0" rx="11.8" ry="9.2" fill="#4e389c" fill-opacity="0.9"/><ellipse cx="172.3" cy="371.5" rx="10.6" ry="8.8" fill="#4a359b"/><ellipse cx="185.2" cy="380.6" rx="8.6" ry="8.6" fill="#44319a"/><ellipse cx="213.6" cy="385.6" rx="12.2" ry="10.2" fill="#5e3791" fill-opacity="0.9"/><ellipse cx="160.0" cy="389.5" rx="9.5" ry="7.0" fill="#6c4599" fill-opacity="0.8"/><ellipse cx="220.8" cy="413.5" rx="8.4" ry="6.0" fill="#49309a"/><ellipse cx="190.0" cy="415.5" rx="5.0" ry="4.5" fill="#553b9c" fill-opacity="0.9"/><path d="M178 394.5Q190 397 204 398.5" stroke="#8c7cc0" stroke-width="1.4" fill="none"/></g>
<rect x="146" y="328" width="95" height="90" filter="url(#nz2)" opacity="0.5"/>
<rect x="146" y="328" width="95" height="90" filter="url(#nz)" opacity="0.4"/>
<path d="M175.0 388.3L178.7 396.9L175.0 395.6L171.3 396.9Z" fill="#f0b01c" stroke="#fff" stroke-opacity="0.45" stroke-width="0.8" paint-order="stroke"/>
<circle cx="160" cy="364.5" r="1.5" fill="#3b2450"/></g>
<g clip-path="url(#cH)"><rect x="249" y="330" width="112" height="88" fill="#eee7f5"/>
<g filter="url(#b1)"><ellipse cx="292.3" cy="338.5" rx="10.3" ry="10.3" fill="#b7a4cd"/><ellipse cx="292.3" cy="338.5" rx="6.8" ry="6.8" fill="#d1c5df"/><ellipse cx="292.3" cy="338.5" rx="3.1" ry="3.1" fill="#c5b6d8"/><ellipse cx="310.8" cy="344.2" rx="10.3" ry="10.3" fill="#b7a4cd"/><ellipse cx="310.8" cy="344.2" rx="6.8" ry="6.8" fill="#d1c5df"/><ellipse cx="310.8" cy="344.2" rx="3.1" ry="3.1" fill="#c5b6d8"/><ellipse cx="329.2" cy="337.3" rx="11.6" ry="11.6" fill="#b7a4cd"/><ellipse cx="329.2" cy="337.3" rx="7.7" ry="7.7" fill="#d1c5df"/><ellipse cx="329.2" cy="337.3" rx="3.5" ry="3.5" fill="#c5b6d8"/><ellipse cx="352.3" cy="346.5" rx="10.3" ry="10.3" fill="#b7a4cd"/><ellipse cx="352.3" cy="346.5" rx="6.8" ry="6.8" fill="#d1c5df"/><ellipse cx="352.3" cy="346.5" rx="3.1" ry="3.1" fill="#c5b6d8"/><ellipse cx="339.6" cy="371.9" rx="11.6" ry="11.6" fill="#b7a4cd"/><ellipse cx="339.6" cy="371.9" rx="7.7" ry="7.7" fill="#d1c5df"/><ellipse cx="339.6" cy="371.9" rx="3.5" ry="3.5" fill="#c5b6d8"/><ellipse cx="352.3" cy="389.2" rx="10.3" ry="10.3" fill="#b7a4cd"/><ellipse cx="352.3" cy="389.2" rx="6.8" ry="6.8" fill="#d1c5df"/><ellipse cx="352.3" cy="389.2" rx="3.1" ry="3.1" fill="#c5b6d8"/><ellipse cx="325.8" cy="411.2" rx="9.0" ry="9.0" fill="#b7a4cd"/><ellipse cx="325.8" cy="411.2" rx="6.0" ry="6.0" fill="#d1c5df"/><ellipse cx="325.8" cy="411.2" rx="2.7" ry="2.7" fill="#c5b6d8"/><ellipse cx="275.0" cy="412.3" rx="10.3" ry="10.3" fill="#b7a4cd"/><ellipse cx="275.0" cy="412.3" rx="6.8" ry="6.8" fill="#d1c5df"/><ellipse cx="275.0" cy="412.3" rx="3.1" ry="3.1" fill="#c5b6d8"/><ellipse cx="263.5" cy="358.1" rx="9.0" ry="9.0" fill="#b7a4cd"/><ellipse cx="263.5" cy="358.1" rx="6.0" ry="6.0" fill="#d1c5df"/><ellipse cx="263.5" cy="358.1" rx="2.7" ry="2.7" fill="#c5b6d8"/><ellipse cx="253.1" cy="354.6" rx="6.5" ry="6.5" fill="#b7a4cd"/><ellipse cx="253.1" cy="354.6" rx="4.3" ry="4.3" fill="#d1c5df"/><ellipse cx="253.1" cy="354.6" rx="1.9" ry="1.9" fill="#c5b6d8"/><ellipse cx="358.1" cy="408.9" rx="7.8" ry="7.8" fill="#b7a4cd"/><ellipse cx="358.1" cy="408.9" rx="5.1" ry="5.1" fill="#d1c5df"/><ellipse cx="358.1" cy="408.9" rx="2.3" ry="2.3" fill="#c5b6d8"/><ellipse cx="272.7" cy="330.4" rx="7.8" ry="7.8" fill="#b7a4cd"/><ellipse cx="272.7" cy="330.4" rx="5.1" ry="5.1" fill="#d1c5df"/><ellipse cx="272.7" cy="330.4" rx="2.3" ry="2.3" fill="#c5b6d8"/><ellipse cx="326.9" cy="356.9" rx="8.1" ry="8.1" fill="#b3a3cf"/><ellipse cx="326.9" cy="356.9" rx="4.0" ry="4.0" fill="#a592c6"/><ellipse cx="331.5" cy="391.5" rx="9.7" ry="9.7" fill="#b3a3cf"/><ellipse cx="331.5" cy="391.5" rx="4.8" ry="4.8" fill="#a592c6"/></g>
<g filter="url(#b3)"><ellipse cx="305.9" cy="376.7" rx="13.6" ry="14.6" fill="#b5a2d4" fill-opacity="0.95"/><ellipse cx="307.5" cy="377.2" rx="11.9" ry="13.4" fill="#4d2f90"/><path d="M297.4 381.8Q304.9 376.6 317.9 373.8" stroke="#b9a8d6" stroke-width="1.9" fill="none" stroke-linecap="round"/><ellipse cx="299.4" cy="369.7" rx="3.0" ry="2.2" fill="#b5a2d4" fill-opacity="0.9" transform="rotate(-40 299.4 369.7)"/><ellipse cx="280.8" cy="375.4" rx="2.5" ry="1.5" fill="#c5b2dc"/></g>
<rect x="249" y="330" width="112" height="88" filter="url(#nz)" opacity="0.16"/>
<path d="M306.2 394.7L310.1 403.7L306.2 402.3L302.3 403.7Z" fill="#f0b01c" stroke="#fff" stroke-opacity="0.45" stroke-width="0.8" paint-order="stroke"/></g>
<g clip-path="url(#cI)"><rect x="368" y="317" width="128" height="100" fill="#4f3c9a"/>
<g filter="url(#b3)"><ellipse cx="496.0" cy="322.0" rx="12.0" ry="15.0" fill="#dcd5ec"/><ellipse cx="497.0" cy="360.0" rx="6.0" ry="15.0" fill="#d6ceea" fill-opacity="0.95"/><ellipse cx="497.0" cy="388.0" rx="4.5" ry="12.0" fill="#d2c9e8" fill-opacity="0.9"/><ellipse cx="370.0" cy="403.0" rx="5.0" ry="9.0" fill="#c9c0e4" fill-opacity="0.8"/><ellipse cx="371.0" cy="344.0" rx="3.0" ry="4.0" fill="#c9c0e4" fill-opacity="0.8"/><ellipse cx="391.5" cy="334.2" rx="10.8" ry="9.6" fill="#8c77bb" stroke="#4a3897" stroke-width="1.6" stroke-opacity="0.92"/><ellipse cx="390.9" cy="333.6" rx="5.4" ry="4.8" fill="#9a84c2" fill-opacity="0.7"/><ellipse cx="426.2" cy="334.2" rx="7.7" ry="7.7" fill="#8c77bb" stroke="#4a3897" stroke-width="1.6" stroke-opacity="0.92"/><ellipse cx="425.6" cy="333.6" rx="3.8" ry="3.8" fill="#9a84c2" fill-opacity="0.7"/><ellipse cx="376.0" cy="326.9" rx="8.8" ry="8.8" fill="#8c77bb" stroke="#4a3897" stroke-width="1.6" stroke-opacity="0.92"/><ellipse cx="375.4" cy="326.3" rx="4.4" ry="4.4" fill="#9a84c2" fill-opacity="0.7"/><ellipse cx="406.1" cy="342.4" rx="8.8" ry="9.8" fill="#8c77bb" stroke="#4a3897" stroke-width="1.6" stroke-opacity="0.92"/><ellipse cx="405.5" cy="341.8" rx="4.4" ry="4.9" fill="#9a84c2" fill-opacity="0.7"/><ellipse cx="414.3" cy="357.0" rx="10.8" ry="10.4" fill="#a08bc7" stroke="#4a3897" stroke-width="1.6" stroke-opacity="0.92"/><ellipse cx="413.7" cy="356.4" rx="5.4" ry="5.2" fill="#ad98cd" fill-opacity="0.7"/><ellipse cx="376.0" cy="353.3" rx="9.8" ry="10.8" fill="#a08bc7" stroke="#4a3897" stroke-width="1.6" stroke-opacity="0.92"/><ellipse cx="375.4" cy="352.7" rx="4.9" ry="5.4" fill="#ad98cd" fill-opacity="0.7"/><ellipse cx="392.4" cy="357.0" rx="8.8" ry="9.8" fill="#8c77bb" stroke="#4a3897" stroke-width="1.6" stroke-opacity="0.92"/><ellipse cx="391.8" cy="356.4" rx="4.4" ry="4.9" fill="#9a84c2" fill-opacity="0.7"/><ellipse cx="378.7" cy="378.9" rx="9.8" ry="9.8" fill="#8c77bb" stroke="#4a3897" stroke-width="1.6" stroke-opacity="0.92"/><ellipse cx="378.1" cy="378.3" rx="4.9" ry="4.9" fill="#9a84c2" fill-opacity="0.7"/><ellipse cx="390.6" cy="369.8" rx="6.6" ry="6.6" fill="#8c77bb" stroke="#4a3897" stroke-width="1.6" stroke-opacity="0.92"/><ellipse cx="390.0" cy="369.2" rx="3.3" ry="3.3" fill="#9a84c2" fill-opacity="0.7"/><ellipse cx="403.3" cy="366.1" rx="7.7" ry="8.8" fill="#8c77bb" stroke="#4a3897" stroke-width="1.6" stroke-opacity="0.92"/><ellipse cx="402.7" cy="365.5" rx="3.8" ry="4.4" fill="#9a84c2" fill-opacity="0.7"/><ellipse cx="418.0" cy="373.4" rx="10.8" ry="10.4" fill="#a08bc7" stroke="#4a3897" stroke-width="1.6" stroke-opacity="0.92"/><ellipse cx="417.4" cy="372.8" rx="5.4" ry="5.2" fill="#ad98cd" fill-opacity="0.7"/><ellipse cx="397.0" cy="386.2" rx="10.8" ry="10.4" fill="#a08bc7" stroke="#4a3897" stroke-width="1.6" stroke-opacity="0.92"/><ellipse cx="396.4" cy="385.6" rx="5.4" ry="5.2" fill="#ad98cd" fill-opacity="0.7"/><ellipse cx="383.3" cy="395.4" rx="8.8" ry="8.4" fill="#8c77bb" stroke="#4a3897" stroke-width="1.6" stroke-opacity="0.92"/><ellipse cx="382.7" cy="394.8" rx="4.4" ry="4.2" fill="#9a84c2" fill-opacity="0.7"/><ellipse cx="428.9" cy="362.5" rx="6.6" ry="8.8" fill="#8c77bb" stroke="#4a3897" stroke-width="1.6" stroke-opacity="0.92"/><ellipse cx="428.3" cy="361.9" rx="3.3" ry="4.4" fill="#9a84c2" fill-opacity="0.7"/><ellipse cx="428.9" cy="384.4" rx="8.8" ry="9.8" fill="#8c77bb" stroke="#4a3897" stroke-width="1.6" stroke-opacity="0.92"/><ellipse cx="428.3" cy="383.8" rx="4.4" ry="4.9" fill="#9a84c2" fill-opacity="0.7"/><ellipse cx="423.4" cy="399.0" rx="9.8" ry="9.8" fill="#8c77bb" stroke="#4a3897" stroke-width="1.6" stroke-opacity="0.92"/><ellipse cx="422.8" cy="398.4" rx="4.9" ry="4.9" fill="#9a84c2" fill-opacity="0.7"/><ellipse cx="399.7" cy="406.3" rx="9.8" ry="8.8" fill="#8c77bb" stroke="#4a3897" stroke-width="1.6" stroke-opacity="0.92"/><ellipse cx="399.1" cy="405.7" rx="4.9" ry="4.4" fill="#9a84c2" fill-opacity="0.7"/><ellipse cx="385.0" cy="408.1" rx="7.7" ry="6.6" fill="#8c77bb" stroke="#4a3897" stroke-width="1.6" stroke-opacity="0.92"/><ellipse cx="384.4" cy="407.5" rx="3.8" ry="3.3" fill="#9a84c2" fill-opacity="0.7"/><ellipse cx="461.0" cy="327.8" rx="10.8" ry="9.8" fill="#8c77bb" stroke="#4a3897" stroke-width="1.6" stroke-opacity="0.92"/><ellipse cx="460.4" cy="327.2" rx="5.4" ry="4.9" fill="#9a84c2" fill-opacity="0.7"/><ellipse cx="474.7" cy="336.0" rx="8.8" ry="9.2" fill="#8c77bb" stroke="#4a3897" stroke-width="1.6" stroke-opacity="0.92"/><ellipse cx="474.1" cy="335.4" rx="4.4" ry="4.6" fill="#9a84c2" fill-opacity="0.7"/><ellipse cx="487.5" cy="342.4" rx="9.2" ry="10.8" fill="#a08bc7" stroke="#4a3897" stroke-width="1.6" stroke-opacity="0.92"/><ellipse cx="486.9" cy="341.8" rx="4.6" ry="5.4" fill="#ad98cd" fill-opacity="0.7"/><ellipse cx="448.3" cy="342.4" rx="9.8" ry="9.8" fill="#8c77bb" stroke="#4a3897" stroke-width="1.6" stroke-opacity="0.92"/><ellipse cx="447.7" cy="341.8" rx="4.9" ry="4.9" fill="#9a84c2" fill-opacity="0.7"/><ellipse cx="464.7" cy="351.5" rx="9.8" ry="9.8" fill="#8c77bb" stroke="#4a3897" stroke-width="1.6" stroke-opacity="0.92"/><ellipse cx="464.1" cy="350.9" rx="4.9" ry="4.9" fill="#9a84c2" fill-opacity="0.7"/><ellipse cx="477.5" cy="355.2" rx="7.7" ry="8.8" fill="#8c77bb" stroke="#4a3897" stroke-width="1.6" stroke-opacity="0.92"/><ellipse cx="476.9" cy="354.6" rx="3.8" ry="4.4" fill="#9a84c2" fill-opacity="0.7"/><ellipse cx="434.6" cy="364.3" rx="8.8" ry="9.8" fill="#8c77bb" stroke="#4a3897" stroke-width="1.6" stroke-opacity="0.92"/><ellipse cx="434.0" cy="363.7" rx="4.4" ry="4.9" fill="#9a84c2" fill-opacity="0.7"/><ellipse cx="453.7" cy="371.6" rx="9.8" ry="9.8" fill="#8c77bb" stroke="#4a3897" stroke-width="1.6" stroke-opacity="0.92"/><ellipse cx="453.1" cy="371.0" rx="4.9" ry="4.9" fill="#9a84c2" fill-opacity="0.7"/><ellipse cx="468.3" cy="369.8" rx="7.7" ry="8.8" fill="#8c77bb" stroke="#4a3897" stroke-width="1.6" stroke-opacity="0.92"/><ellipse cx="467.7" cy="369.2" rx="3.8" ry="4.4" fill="#9a84c2" fill-opacity="0.7"/><ellipse cx="483.0" cy="371.6" rx="9.8" ry="10.8" fill="#a08bc7" stroke="#4a3897" stroke-width="1.6" stroke-opacity="0.92"/><ellipse cx="482.4" cy="371.0" rx="4.9" ry="5.4" fill="#ad98cd" fill-opacity="0.7"/><ellipse cx="435.5" cy="388.0" rx="8.8" ry="10.8" fill="#8c77bb" stroke="#4a3897" stroke-width="1.6" stroke-opacity="0.92"/><ellipse cx="434.9" cy="387.4" rx="4.4" ry="5.4" fill="#9a84c2" fill-opacity="0.7"/><ellipse cx="451.9" cy="395.4" rx="10.8" ry="9.8" fill="#8c77bb" stroke="#4a3897" stroke-width="1.6" stroke-opacity="0.92"/><ellipse cx="451.3" cy="394.8" rx="5.4" ry="4.9" fill="#9a84c2" fill-opacity="0.7"/><ellipse cx="469.3" cy="388.0" rx="9.8" ry="9.8" fill="#8c77bb" stroke="#4a3897" stroke-width="1.6" stroke-opacity="0.92"/><ellipse cx="468.7" cy="387.4" rx="4.9" ry="4.9" fill="#9a84c2" fill-opacity="0.7"/><ellipse cx="483.0" cy="390.8" rx="7.7" ry="8.8" fill="#8c77bb" stroke="#4a3897" stroke-width="1.6" stroke-opacity="0.92"/><ellipse cx="482.4" cy="390.2" rx="3.8" ry="4.4" fill="#9a84c2" fill-opacity="0.7"/><ellipse cx="469.3" cy="406.3" rx="10.8" ry="9.8" fill="#8c77bb" stroke="#4a3897" stroke-width="1.6" stroke-opacity="0.92"/><ellipse cx="468.7" cy="405.7" rx="5.4" ry="4.9" fill="#9a84c2" fill-opacity="0.7"/><ellipse cx="488.4" cy="402.7" rx="8.8" ry="9.8" fill="#8c77bb" stroke="#4a3897" stroke-width="1.6" stroke-opacity="0.92"/><ellipse cx="487.8" cy="402.1" rx="4.4" ry="4.9" fill="#9a84c2" fill-opacity="0.7"/><ellipse cx="441.0" cy="408.1" rx="9.8" ry="8.8" fill="#8c77bb" stroke="#4a3897" stroke-width="1.6" stroke-opacity="0.92"/><ellipse cx="440.4" cy="407.5" rx="4.9" ry="4.4" fill="#9a84c2" fill-opacity="0.7"/><ellipse cx="435.5" cy="335.1" rx="6.6" ry="8.8" fill="#8c77bb" stroke="#4a3897" stroke-width="1.6" stroke-opacity="0.92"/><ellipse cx="434.9" cy="334.5" rx="3.3" ry="4.4" fill="#9a84c2" fill-opacity="0.7"/><ellipse cx="409.0" cy="325.0" rx="9.6" ry="7.2" fill="#8c77bb" stroke="#4a3897" stroke-width="1.6" stroke-opacity="0.92"/><ellipse cx="408.4" cy="324.4" rx="4.8" ry="3.6" fill="#9a84c2" fill-opacity="0.7"/><ellipse cx="443.0" cy="324.0" rx="9.6" ry="7.2" fill="#8c77bb" stroke="#4a3897" stroke-width="1.6" stroke-opacity="0.92"/><ellipse cx="442.4" cy="323.4" rx="4.8" ry="3.6" fill="#9a84c2" fill-opacity="0.7"/><ellipse cx="374.0" cy="340.0" rx="6.0" ry="7.2" fill="#8c77bb" stroke="#4a3897" stroke-width="1.6" stroke-opacity="0.92"/><ellipse cx="373.4" cy="339.4" rx="3.0" ry="3.6" fill="#9a84c2" fill-opacity="0.7"/><ellipse cx="411.0" cy="411.0" rx="8.4" ry="7.2" fill="#8c77bb" stroke="#4a3897" stroke-width="1.6" stroke-opacity="0.92"/><ellipse cx="410.4" cy="410.4" rx="4.2" ry="3.6" fill="#9a84c2" fill-opacity="0.7"/><ellipse cx="372.0" cy="366.0" rx="4.8" ry="7.2" fill="#8c77bb" stroke="#4a3897" stroke-width="1.6" stroke-opacity="0.92"/><ellipse cx="371.4" cy="365.4" rx="2.4" ry="3.6" fill="#9a84c2" fill-opacity="0.7"/><ellipse cx="373.0" cy="412.0" rx="6.0" ry="6.0" fill="#8c77bb" stroke="#4a3897" stroke-width="1.6" stroke-opacity="0.92"/><ellipse cx="372.4" cy="411.4" rx="3.0" ry="3.0" fill="#9a84c2" fill-opacity="0.7"/><ellipse cx="455.0" cy="413.0" rx="7.2" ry="4.8" fill="#8c77bb" stroke="#4a3897" stroke-width="1.6" stroke-opacity="0.92"/><ellipse cx="454.4" cy="412.4" rx="3.6" ry="2.4" fill="#9a84c2" fill-opacity="0.7"/><ellipse cx="422.0" cy="347.0" rx="6.0" ry="6.0" fill="#8c77bb" stroke="#4a3897" stroke-width="1.6" stroke-opacity="0.92"/><ellipse cx="421.4" cy="346.4" rx="3.0" ry="3.0" fill="#9a84c2" fill-opacity="0.7"/><ellipse cx="441.0" cy="353.0" rx="6.0" ry="7.2" fill="#8c77bb" stroke="#4a3897" stroke-width="1.6" stroke-opacity="0.92"/><ellipse cx="440.4" cy="352.4" rx="3.0" ry="3.6" fill="#9a84c2" fill-opacity="0.7"/></g>
<g filter="url(#b1)"><ellipse cx="443.7" cy="347.0" rx="3.0" ry="11.0" fill="#46349a" fill-opacity="0.85"/><ellipse cx="457.0" cy="363.0" rx="9.5" ry="7.5" fill="#46349a" fill-opacity="0.7"/><ellipse cx="410.7" cy="395.4" rx="5.5" ry="10.0" fill="#45339a" fill-opacity="0.8"/><ellipse cx="402.0" cy="378.0" rx="5.0" ry="5.0" fill="#4a389c" fill-opacity="0.7"/><ellipse cx="388.0" cy="374.0" rx="4.0" ry="5.0" fill="#4a389c" fill-opacity="0.55"/><ellipse cx="446.0" cy="380.0" rx="4.0" ry="7.0" fill="#4a389c" fill-opacity="0.55"/><ellipse cx="462.0" cy="397.0" rx="4.0" ry="5.0" fill="#4a389c" fill-opacity="0.5"/><ellipse cx="425.0" cy="350.0" rx="4.0" ry="5.0" fill="#4a389c" fill-opacity="0.5"/><ellipse cx="384.0" cy="343.0" rx="5.0" ry="4.0" fill="#4a389c" fill-opacity="0.45"/><ellipse cx="390.6" cy="369.8" rx="3.6" ry="3.6" fill="#d4cce9" fill-opacity="0.85"/><ellipse cx="497.0" cy="336.0" rx="5.0" ry="9.0" fill="#ddd6ee" fill-opacity="0.9"/><ellipse cx="487.0" cy="319.5" rx="16.0" ry="9.5" fill="#dcd5ed" fill-opacity="0.95"/><ellipse cx="478.0" cy="321.0" rx="7.0" ry="5.0" fill="#cfc6e6" fill-opacity="0.7"/><ellipse cx="372.0" cy="322.0" rx="6.0" ry="5.0" fill="#cdc5e8" fill-opacity="0.6"/><ellipse cx="371.0" cy="341.0" rx="3.5" ry="5.0" fill="#d2caea" fill-opacity="0.6"/><ellipse cx="370.5" cy="404.0" rx="4.5" ry="8.0" fill="#d0c8e9" fill-opacity="0.65"/><ellipse cx="385.0" cy="330.0" rx="4.0" ry="3.0" fill="#cbc3e6" fill-opacity="0.45"/><ellipse cx="398.0" cy="322.0" rx="5.0" ry="3.0" fill="#c5bce4" fill-opacity="0.45"/><ellipse cx="372.0" cy="372.0" rx="3.0" ry="5.0" fill="#c9c0e6" fill-opacity="0.45"/><circle cx="426.2" cy="334.2" r="8.3" fill="none" stroke="#c5bce4" stroke-width="1.6" stroke-opacity="0.55"/><ellipse cx="438.0" cy="326.0" rx="6.0" ry="4.0" fill="#c2b9e2" fill-opacity="0.45"/><ellipse cx="498.0" cy="372.0" rx="5.0" ry="12.0" fill="#d9d1ec" fill-opacity="0.9"/><ellipse cx="497.0" cy="404.0" rx="4.0" ry="9.0" fill="#d2c9e8" fill-opacity="0.8"/></g>
<rect x="368" y="317" width="128" height="100" filter="url(#nzI)" opacity="0.75"/>
<rect x="368" y="317" width="128" height="100" filter="url(#nz2)" opacity="0.30"/>
<rect x="368" y="317" width="128" height="100" filter="url(#nz)" opacity="0.4"/></g>
<g id="lbl">
<text x="6.9" y="309" font-size="11.5" text-anchor="start" fill="#000" font-weight="bold" >F</text>
<text x="147.4" y="309" font-size="11.5" text-anchor="start" fill="#000" font-weight="bold" >G</text>
<text x="249.4" y="309" font-size="11.5" text-anchor="start" fill="#000" font-weight="bold" >H</text>
<text x="369.6" y="309" font-size="11.5" text-anchor="start" fill="#000" font-weight="bold" >I</text>
</g>
<rect x="0" y="0" width="1" height="575" fill="#000"/><rect x="0" y="0" width="520" height="0.9" fill="#000"/><rect x="518.9" y="0" width="1.1" height="575" fill="#000"/><rect x="0" y="573.9" width="520" height="1.1" fill="#000"/>
</svg></body></html>
